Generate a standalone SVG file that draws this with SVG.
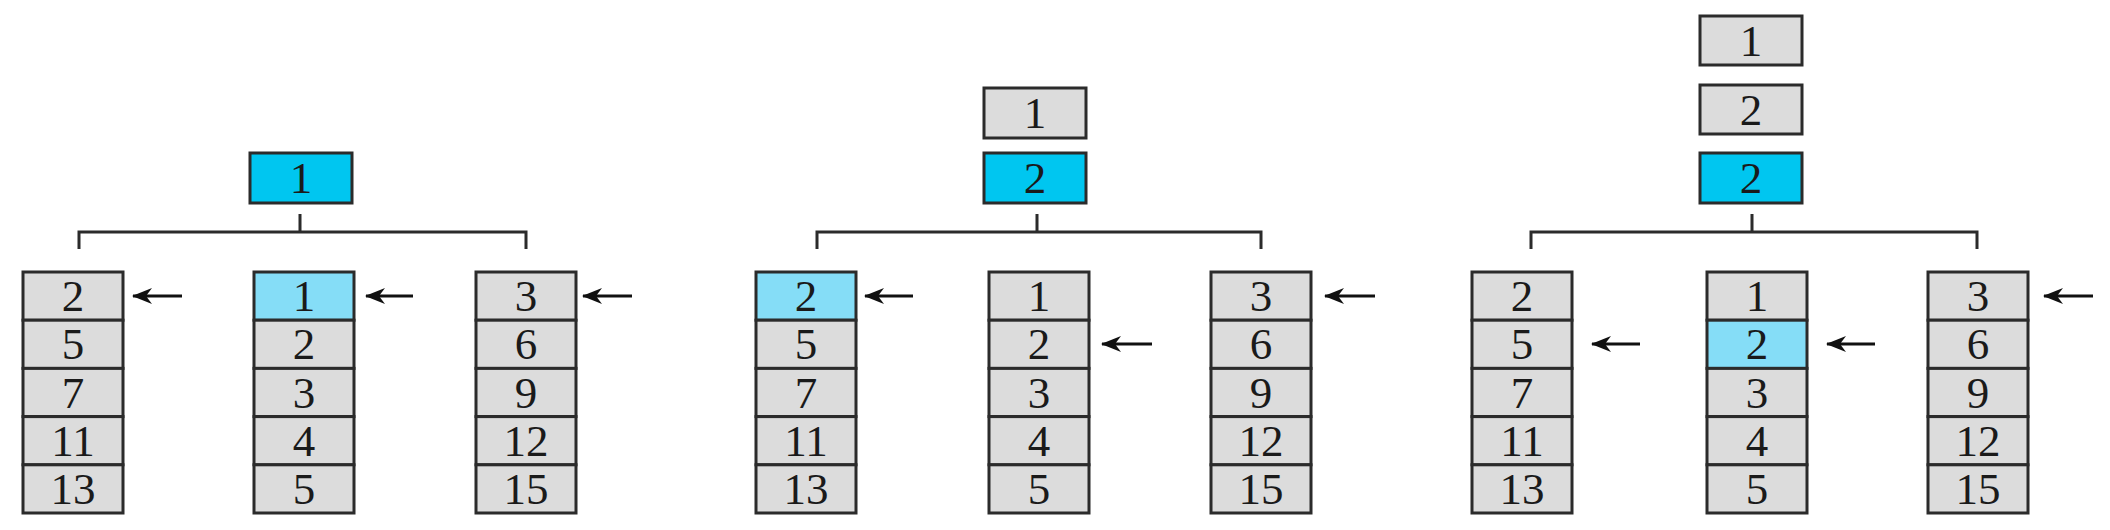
<svg xmlns="http://www.w3.org/2000/svg" width="2110" height="530" viewBox="0 0 2110 530">
<style>
.c{fill:#dcdcdc;stroke:#2b2b2b;stroke-width:3}
.hi{fill:#00c6f0;stroke:#2b2b2b;stroke-width:3}
.lb{fill:#85ddf7;stroke:#2b2b2b;stroke-width:3}
.t{font-family:"Liberation Serif","Times New Roman",serif;font-size:45px;fill:#1a1a1a;text-anchor:middle}
.ln{fill:none;stroke:#2b2b2b;stroke-width:3}
.ar{fill:none;stroke:#111;stroke-width:3;marker-start:url(#ah)}
</style>
<defs>
<marker id="ah" viewBox="0 0 20 16" refX="1" refY="8" markerWidth="20" markerHeight="16" markerUnits="userSpaceOnUse" orient="auto">
<path d="M0,8 L20,0 L14,8 L20,16 Z" fill="#111"/>
</marker>
</defs>
<rect width="2110" height="530" fill="#fff"/>
<g id="connectors">
<path class="ln" d="M300,214 V232 M79,249 V232 H526 V249"/>
<path class="ln" d="M1037,214 V232 M817,249 V232 H1261 V249"/>
<path class="ln" d="M1752,214 V232 M1531,249 V232 H1977 V249"/>
<path class="ar" d="M133,296 H182"/>
<path class="ar" d="M366,296 H413"/>
<path class="ar" d="M583,296 H632"/>
<path class="ar" d="M865,296 H913"/>
<path class="ar" d="M1102,344 H1152"/>
<path class="ar" d="M1325,296 H1375"/>
<path class="ar" d="M1592,344 H1640"/>
<path class="ar" d="M1827,344 H1875"/>
<path class="ar" d="M2044,296 H2093"/>
</g>
<g id="p1-top"><rect class="hi" x="250" y="153" width="102" height="50"/><text class="t" x="301" y="193">1</text></g>
<g id="p1-left">
<rect class="c" x="23" y="272" width="100" height="48.2"/><text class="t" x="73" y="311">2</text>
<rect class="c" x="23" y="320.2" width="100" height="48.2"/><text class="t" x="73" y="359">5</text>
<rect class="c" x="23" y="368.4" width="100" height="48.2"/><text class="t" x="73" y="408">7</text>
<rect class="c" x="23" y="416.6" width="100" height="48.2"/><text class="t" x="73" y="456">11</text>
<rect class="c" x="23" y="464.8" width="100" height="48.2"/><text class="t" x="73" y="504">13</text>
</g>
<g id="p1-mid">
<rect class="lb" x="254" y="272" width="100" height="48.2"/><text class="t" x="304" y="311">1</text>
<rect class="c" x="254" y="320.2" width="100" height="48.2"/><text class="t" x="304" y="359">2</text>
<rect class="c" x="254" y="368.4" width="100" height="48.2"/><text class="t" x="304" y="408">3</text>
<rect class="c" x="254" y="416.6" width="100" height="48.2"/><text class="t" x="304" y="456">4</text>
<rect class="c" x="254" y="464.8" width="100" height="48.2"/><text class="t" x="304" y="504">5</text>
</g>
<g id="p1-right">
<rect class="c" x="476" y="272" width="100" height="48.2"/><text class="t" x="526" y="311">3</text>
<rect class="c" x="476" y="320.2" width="100" height="48.2"/><text class="t" x="526" y="359">6</text>
<rect class="c" x="476" y="368.4" width="100" height="48.2"/><text class="t" x="526" y="408">9</text>
<rect class="c" x="476" y="416.6" width="100" height="48.2"/><text class="t" x="526" y="456">12</text>
<rect class="c" x="476" y="464.8" width="100" height="48.2"/><text class="t" x="526" y="504">15</text>
</g>
<g id="p2-top">
<rect class="c" x="984" y="88" width="102" height="50"/><text class="t" x="1035" y="128">1</text>
<rect class="hi" x="984" y="153" width="102" height="50"/><text class="t" x="1035" y="193">2</text>
</g>
<g id="p2-left">
<rect class="lb" x="756" y="272" width="100" height="48.2"/><text class="t" x="806" y="311">2</text>
<rect class="c" x="756" y="320.2" width="100" height="48.2"/><text class="t" x="806" y="359">5</text>
<rect class="c" x="756" y="368.4" width="100" height="48.2"/><text class="t" x="806" y="408">7</text>
<rect class="c" x="756" y="416.6" width="100" height="48.2"/><text class="t" x="806" y="456">11</text>
<rect class="c" x="756" y="464.8" width="100" height="48.2"/><text class="t" x="806" y="504">13</text>
</g>
<g id="p2-mid">
<rect class="c" x="989" y="272" width="100" height="48.2"/><text class="t" x="1039" y="311">1</text>
<rect class="c" x="989" y="320.2" width="100" height="48.2"/><text class="t" x="1039" y="359">2</text>
<rect class="c" x="989" y="368.4" width="100" height="48.2"/><text class="t" x="1039" y="408">3</text>
<rect class="c" x="989" y="416.6" width="100" height="48.2"/><text class="t" x="1039" y="456">4</text>
<rect class="c" x="989" y="464.8" width="100" height="48.2"/><text class="t" x="1039" y="504">5</text>
</g>
<g id="p2-right">
<rect class="c" x="1211" y="272" width="100" height="48.2"/><text class="t" x="1261" y="311">3</text>
<rect class="c" x="1211" y="320.2" width="100" height="48.2"/><text class="t" x="1261" y="359">6</text>
<rect class="c" x="1211" y="368.4" width="100" height="48.2"/><text class="t" x="1261" y="408">9</text>
<rect class="c" x="1211" y="416.6" width="100" height="48.2"/><text class="t" x="1261" y="456">12</text>
<rect class="c" x="1211" y="464.8" width="100" height="48.2"/><text class="t" x="1261" y="504">15</text>
</g>
<g id="p3-top">
<rect class="c" x="1700" y="16" width="102" height="49"/><text class="t" x="1751" y="56">1</text>
<rect class="c" x="1700" y="85" width="102" height="49"/><text class="t" x="1751" y="125">2</text>
<rect class="hi" x="1700" y="153" width="102" height="50"/><text class="t" x="1751" y="193">2</text>
</g>
<g id="p3-left">
<rect class="c" x="1472" y="272" width="100" height="48.2"/><text class="t" x="1522" y="311">2</text>
<rect class="c" x="1472" y="320.2" width="100" height="48.2"/><text class="t" x="1522" y="359">5</text>
<rect class="c" x="1472" y="368.4" width="100" height="48.2"/><text class="t" x="1522" y="408">7</text>
<rect class="c" x="1472" y="416.6" width="100" height="48.2"/><text class="t" x="1522" y="456">11</text>
<rect class="c" x="1472" y="464.8" width="100" height="48.2"/><text class="t" x="1522" y="504">13</text>
</g>
<g id="p3-mid">
<rect class="c" x="1707" y="272" width="100" height="48.2"/><text class="t" x="1757" y="311">1</text>
<rect class="lb" x="1707" y="320.2" width="100" height="48.2"/><text class="t" x="1757" y="359">2</text>
<rect class="c" x="1707" y="368.4" width="100" height="48.2"/><text class="t" x="1757" y="408">3</text>
<rect class="c" x="1707" y="416.6" width="100" height="48.2"/><text class="t" x="1757" y="456">4</text>
<rect class="c" x="1707" y="464.8" width="100" height="48.2"/><text class="t" x="1757" y="504">5</text>
</g>
<g id="p3-right">
<rect class="c" x="1928" y="272" width="100" height="48.2"/><text class="t" x="1978" y="311">3</text>
<rect class="c" x="1928" y="320.2" width="100" height="48.2"/><text class="t" x="1978" y="359">6</text>
<rect class="c" x="1928" y="368.4" width="100" height="48.2"/><text class="t" x="1978" y="408">9</text>
<rect class="c" x="1928" y="416.6" width="100" height="48.2"/><text class="t" x="1978" y="456">12</text>
<rect class="c" x="1928" y="464.8" width="100" height="48.2"/><text class="t" x="1978" y="504">15</text>
</g>
</svg>
